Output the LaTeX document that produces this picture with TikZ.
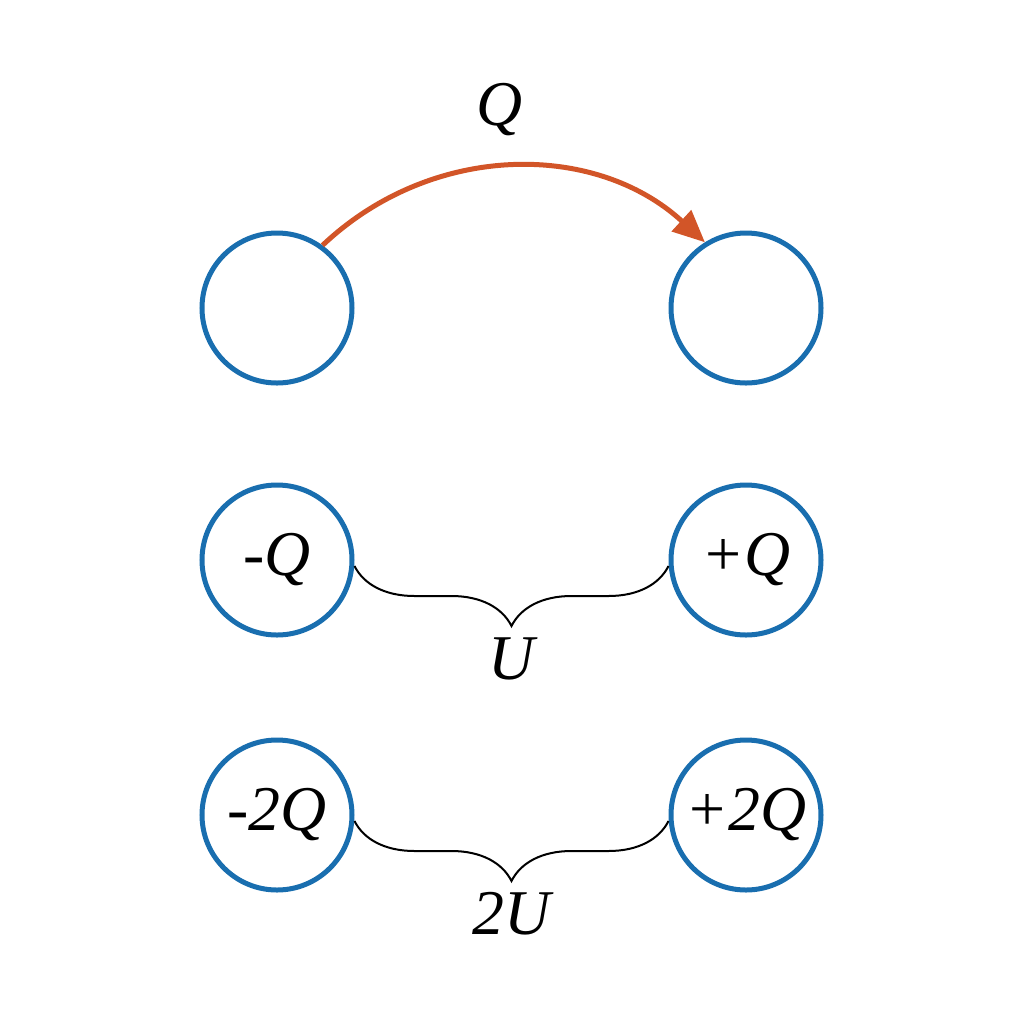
\documentclass[tikz,border=0pt]{standalone}
\usepackage{fontspec}
\setmainfont{Liberation Serif}
\usetikzlibrary{decorations.pathreplacing,arrows.meta}
\definecolor{cblue}{RGB}{25,110,175}
\definecolor{corange}{RGB}{210,85,40}
\begin{document}
\begin{tikzpicture}[x=0.5bp,y=-0.5bp,
  ball/.style={circle,draw=cblue,line width=2.5bp,minimum size=75bp,inner sep=0pt},
  lab/.style={font=\fontsize{32}{34}\selectfont\itshape},
  br/.style={decorate,decoration={brace,mirror,amplitude=30bp},line width=1bp}]
\useasboundingbox (0,0) rectangle (1024,1024);
\node[ball] (a1) at (277,308) {};
\node[ball] (b1) at (746,308) {};
\node[ball,lab] (a2) at (277,560) {-Q};
\node[ball,lab] (b2) at (746,560) {+Q};
\node[ball,lab] (a3) at (277,815) {-2Q};
\node[ball,lab] (b3) at (746,815) {+2Q};
\node[lab] (q) at (500,110) {Q};
\draw[corange,line width=2.5bp,-{Triangle[length=16bp,width=14bp]}] (a1.54) to[bend left=43] (b1.122);
\draw[br] ([yshift=-3bp]a2.east) -- ([yshift=-3bp]b2.west) node[midway,below=32bp,lab] (u) {U};
\draw[br] ([yshift=-3bp]a3.east) -- ([yshift=-3bp]b3.west) node[midway,below=32bp,lab] (u2) {2U};
\end{tikzpicture}
\end{document}
